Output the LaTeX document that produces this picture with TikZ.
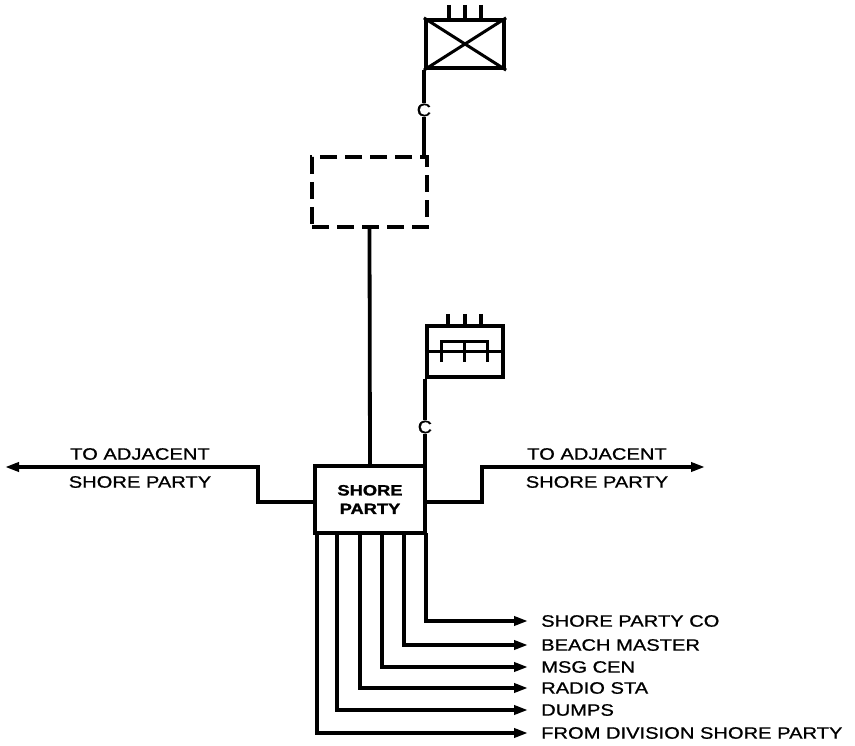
\documentclass[tikz,border=0pt]{standalone}
\usepackage{fontspec}
\setmainfont{Liberation Sans}
\newfontfamily\labfont[FakeBold=0.8]{Liberation Sans}
\newfontfamily\boxfont[FakeBold=1.2]{Liberation Sans Bold}
\usetikzlibrary{arrows.meta}
\tikzset{
  box/.style={draw, line width=4.2pt, inner sep=0pt},
  wire/.style={line width=3.8pt},
  arr/.style={wire, -{Triangle[length=14pt,width=9pt]}},
  lab/.style={font=\labfont\fontsize{16.5}{18}\selectfont, inner sep=0pt},
  cmark/.style={font=\labfont\fontsize{18}{18}\selectfont, inner sep=0.5pt},
}
\newcommand{\wide}[1]{\scalebox{1.22}[1]{#1}}
\begin{document}
\begin{tikzpicture}[x=1pt,y=-1pt]
\useasboundingbox (0,0) rectangle (855,746);
% top crossed box
\node[box, minimum width=78pt, minimum height=48pt] (ta) at (465,44) {};
\draw[line width=3pt] (ta.north west) -- (ta.south east) (ta.south west) -- (ta.north east);
\foreach \xx in {449,465,481} \draw[line width=4pt] (\xx,5) -- (\xx,20);
% C mark 1
\node[cmark] (c1) at (ta.south west |- 0,110) {\scalebox{1.1}[1]{C}};
% dashed box
\node[draw, dash pattern=on 17pt off 8pt, line width=4.2pt, minimum width=115pt, minimum height=70pt] (db) at (369.5,192) {};
\coordinate (dbtr) at (ta.south west |- db.north);
\draw[wire] (ta.south west) -- (c1.north);
\draw[wire] (c1.south) -- (dbtr);
% second box
\node[box, minimum width=76pt, minimum height=51pt] (sb) at (465,351.5) {};
\draw[line width=3.5pt] (sb.west) -- (sb.east);
\draw[line width=3pt] (441,362) -- (441,342) -- (487,342) -- (487,362) (464,342) -- (464,362);
\foreach \xx in {448,465,481} \draw[line width=4pt] (\xx,314) -- (\xx,326);
\node[cmark] (c2) at (sb.south west |- 0,427) {\scalebox{1.1}[1]{C}};
% shore party box
\node[box, minimum width=110pt, minimum height=67pt, align=center, font=\boxfont\fontsize{15}{18.5}\selectfont] (sp) at (370,499.5) {\wide{SHORE}\\\wide{PARTY}};
\draw[wire] (sb.south west) -- (c2.north);
\draw[wire] (c2.south) -- (c2.south |- sp.north);
\draw[wire] (db.south) -- (sp.north);
% adjacent arrows
\coordinate (la) at (5,467);
\coordinate (ra) at (705,467);
\draw[arr] (sp.west |- 0,502) -- (258,502) -- (258,467) -- (la);
\draw[arr] (sp.east |- 0,502) -- (482,502) -- (482,467) -- (ra);
\node[lab] (l1) at (140,454) {\wide{TO ADJACENT}};
\node[lab] (l2) at (140,482) {\wide{SHORE PARTY}};
\node[lab] (r1) at (597,454) {\wide{TO ADJACENT}};
\node[lab] (r2) at (597,482) {\wide{SHORE PARTY}};
% outgoing lines
\foreach \nm/\xx/\yy/\tx in {a/426/621/SHORE PARTY CO, b/404/645/BEACH MASTER, c/382/667/MSG CEN, d/360/688/RADIO STA, e/337/710/DUMPS, f/317/733/FROM DIVISION SHORE PARTY}{
  \node[lab, anchor=west] (t\nm) at (541,\yy) {\wide{\tx}};
  \draw[arr] (\xx,533) -- (\xx,\yy) -- ([xshift=-13pt]t\nm.west);
}
\end{tikzpicture}
\end{document}
